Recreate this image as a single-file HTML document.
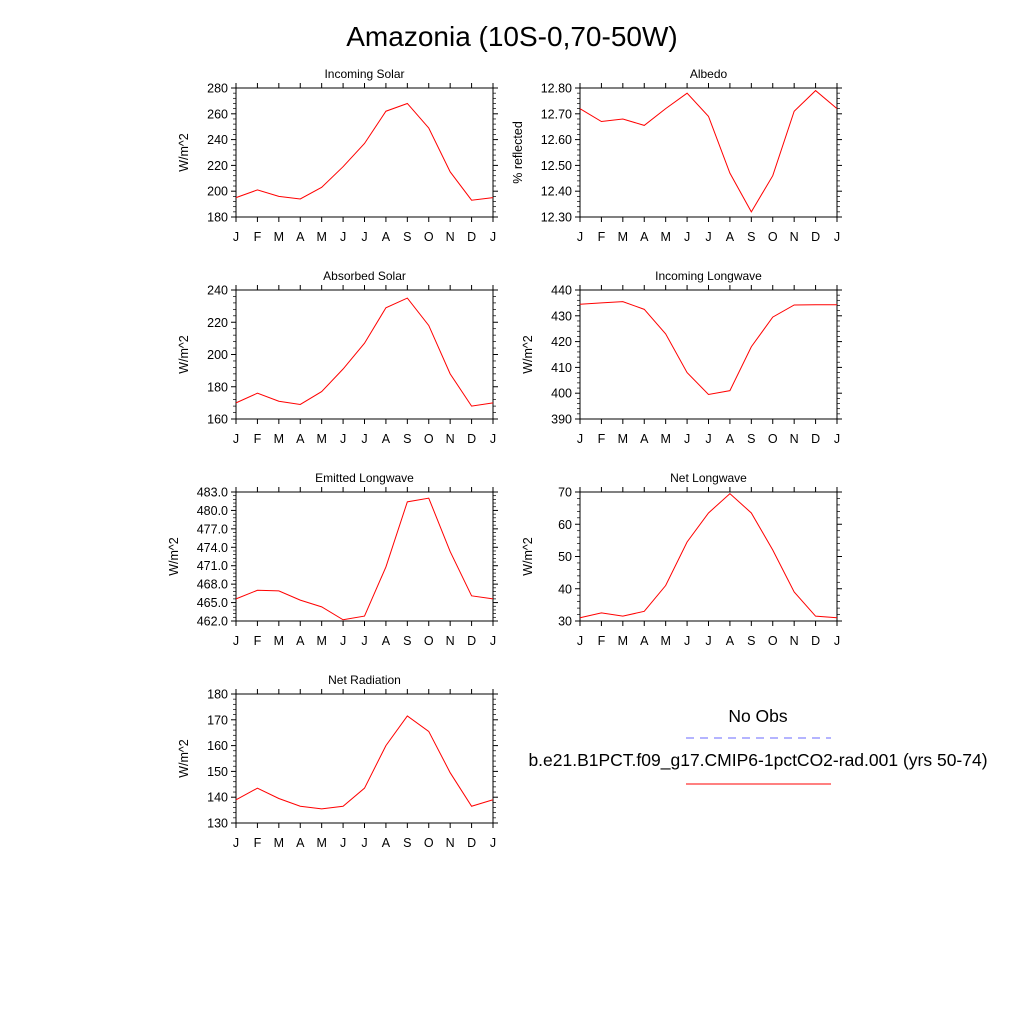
<!DOCTYPE html>
<html><head><meta charset="utf-8"><style>
body{margin:0;background:#fff}
svg{display:block;font-family:"Liberation Sans",sans-serif}
</style></head><body>
<svg id="c" width="1024" height="1024" viewBox="0 0 1024 1024">
<text x="512" y="46" font-size="28" text-anchor="middle">Amazonia (10S-0,70-50W)</text>
<g>
<text x="758" y="722" font-size="17.5" text-anchor="middle">No Obs</text>
<line x1="686" y1="738" x2="831" y2="738" stroke="#6a6aff" stroke-width="1" stroke-dasharray="8,6"/>
<text x="758" y="766" font-size="17.5" text-anchor="middle">b.e21.B1PCT.f09_g17.CMIP6-1pctCO2-rad.001 (yrs 50-74)</text>
<line x1="686" y1="784" x2="831" y2="784" stroke="#f00" stroke-width="1"/>
</g>
</svg>
<script>
const months = ["J","F","M","A","M","J","J","A","S","O","N","D","J"];
const incomingSolar = [195,201,196,194,203,219,237,262,268,249,215,193,195];
const albedo = [12.72,12.67,12.68,12.655,12.72,12.78,12.69,12.47,12.32,12.46,12.71,12.79,12.72];
const absorbedSolar = [170,176,171,169,177,191,207,229,235,218,188,168,170];
const incomingLW = [434.5,435,435.5,432.5,423,408,399.5,401,418,429.5,434.2,434.3,434.3];
const emittedLW = [465.6,467.0,466.9,465.4,464.3,462.2,462.8,470.8,481.4,482.0,473.3,466.1,465.6];
const netLW = [31,32.5,31.5,33,41,54.5,63.5,69.5,63.5,52,39,31.5,31];
const netRad = [139,143.5,139.5,136.5,135.5,136.5,143.5,160,171.5,165.5,149.5,136.5,139];
const ticksIS = [180,200,220,240,260,280];
const ticksAlb = [12.3,12.4,12.5,12.6,12.7,12.8];
const ticksAS = [160,180,200,220,240];
const ticksILW = [390,400,410,420,430,440];
const ticksELW = [462,465,468,471,474,477,480,483];
const ticksNLW = [30,40,50,60,70];
const ticksNR = [130,140,150,160,170,180];

const NS="http://www.w3.org/2000/svg";
const svg=document.getElementById('c');
function mk(tag,attrs,parent){const e=document.createElementNS(NS,tag);for(const k in attrs)e.setAttribute(k,attrs[k]);parent.appendChild(e);return e;}
function panel(name,title,ytitle,data,ticks,dec,x0,y0){
  const w=257,h=129;
  const g=mk('g',{},svg);
  
  
  const lo=ticks[0],hi=ticks[ticks.length-1];
  const xs=i=>x0+i*w/12, ys=v=>y0+h-(v-lo)/(hi-lo)*h;
  for(let i=0;i<ticks.length-1;i++){for(let k=1;k<5;k++){const v=ticks[i]+(ticks[i+1]-ticks[i])*k/5;const y=ys(v);
    mk('line',{x1:x0-3,y1:y,x2:x0,y2:y,stroke:'#000','stroke-width':0.7},g);
    mk('line',{x1:x0+w,y1:y,x2:x0+w+3,y2:y,stroke:'#000','stroke-width':0.7},g);}}
  ticks.forEach(v=>{const y=ys(v);
    mk('line',{x1:x0-5,y1:y,x2:x0,y2:y,stroke:'#000'},g);
    mk('line',{x1:x0+w,y1:y,x2:x0+w+5,y2:y,stroke:'#000'},g);
    const t=mk('text',{x:x0-8,y:y+4.5,'font-size':12.5,'text-anchor':'end'},g);t.textContent=v.toFixed(dec);
    
    });
  months.forEach((m,i)=>{const x=xs(i);
    mk('line',{x1:x,y1:y0+h,x2:x,y2:y0+h+5,stroke:'#000'},g);
    mk('line',{x1:x,y1:y0-5,x2:x,y2:y0,stroke:'#000'},g);
    const t=mk('text',{x:x,y:y0+h+24,'font-size':12.5,'text-anchor':'middle'},g);t.textContent=m;
    
    });
  mk('rect',{x:x0,y:y0,width:w,height:h,fill:'none',stroke:'#000','stroke-width':1},g);
  const p=mk('polyline',{points:data.map((v,i)=>xs(i)+','+ys(v)).join(' '),fill:'none',stroke:'#f00','stroke-width':1},g);
  
  
  const tt=mk('text',{x:x0+w/2,y:y0-10,'font-size':12,'text-anchor':'middle'},g);tt.textContent=title;
  
  
  const ytx=x0-(dec>0?58:48);
  const yt=mk('text',{x:ytx,y:y0+h/2,'font-size':12.5,'text-anchor':'middle',transform:`rotate(-90 ${ytx} ${y0+h/2})`},g);yt.textContent=ytitle;
  
  
}
panel('incoming-solar','Incoming Solar','W/m^2',incomingSolar,ticksIS,0,236,88);
panel('albedo','Albedo','% reflected',albedo,ticksAlb,2,580,88);
panel('absorbed-solar','Absorbed Solar','W/m^2',absorbedSolar,ticksAS,0,236,290);
panel('incoming-longwave','Incoming Longwave','W/m^2',incomingLW,ticksILW,0,580,290);
panel('emitted-longwave','Emitted Longwave','W/m^2',emittedLW,ticksELW,1,236,492);
panel('net-longwave','Net Longwave','W/m^2',netLW,ticksNLW,0,580,492);
panel('net-radiation','Net Radiation','W/m^2',netRad,ticksNR,0,236,694);
</script>
</body></html>
